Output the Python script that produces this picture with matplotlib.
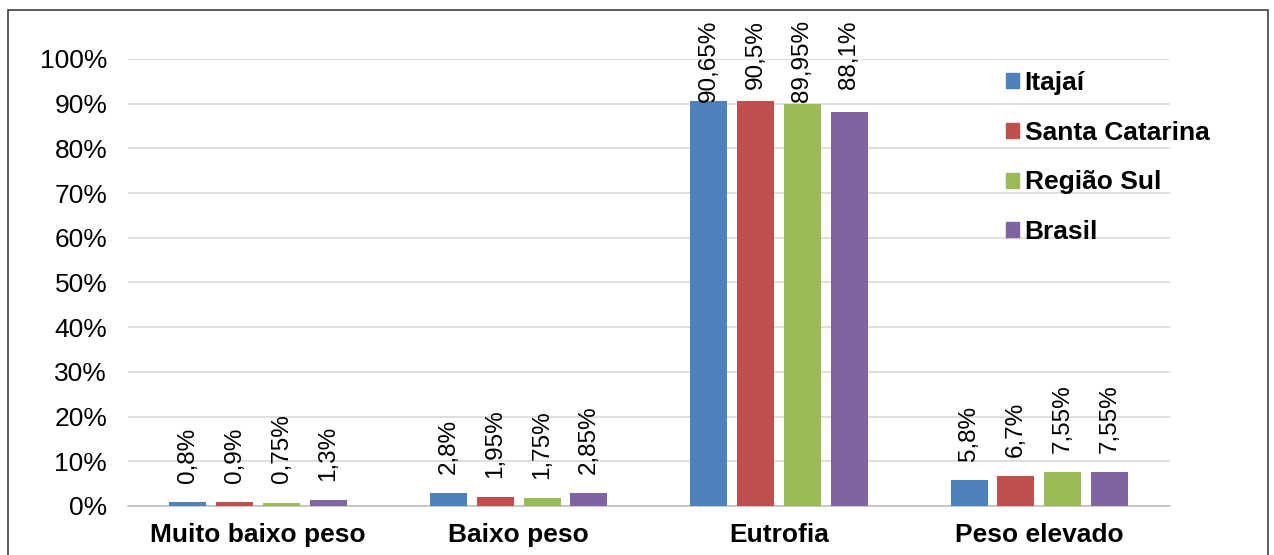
import matplotlib
matplotlib.use("Agg")
import matplotlib.pyplot as plt
import numpy as np
from matplotlib.patches import Patch, Rectangle

plt.rcParams['font.family'] = ['Liberation Sans', 'DejaVu Sans']

categorias = ['Muito baixo peso', 'Baixo peso', 'Eutrofia', 'Peso elevado']
series = ['Itajaí', 'Santa Catarina', 'Região Sul', 'Brasil']
itajai = [0.8, 2.8, 90.65, 5.8]
santa_catarina = [0.9, 1.95, 90.5, 6.7]
regiao_sul = [0.75, 1.75, 89.95, 7.55]
brasil = [1.3, 2.85, 88.1, 7.55]
rotulos = [['0,8%', '2,8%', '90,65%', '5,8%'],
           ['0,9%', '1,95%', '90,5%', '6,7%'],
           ['0,75%', '1,75%', '89,95%', '7,55%'],
           ['1,3%', '2,85%', '88,1%', '7,55%']]
cores = ['#4F81BD', '#C0504D', '#9BBB59', '#8064A2']

valores = [itajai, santa_catarina, regiao_sul, brasil]

fig = plt.figure(figsize=(12.74, 5.55), dpi=100)
ax = fig.add_axes([0.1005, 0.0883, 0.8175, 0.8054])

x = np.arange(len(categorias))
w = 0.142
passo = 0.18
for i, (nome, vals) in enumerate(zip(series, valores)):
    pos = x + (i - 1.5) * passo
    ax.bar(pos, vals, width=w, color=cores[i], zorder=3)
    for px, v, r in zip(pos, vals, rotulos[i]):
        if v > 85:
            # excel pushes these labels down to fit the chart area
            ax.annotate(r, xy=(px, 100), xytext=(0, 28), textcoords='offset points',
                        rotation=90, ha='center', va='top', fontsize=17.5)
        else:
            ax.annotate(r, xy=(px, v), xytext=(0, 14), textcoords='offset points',
                        rotation=90, ha='center', va='bottom', fontsize=17.5)

ax.set_xlim(-0.5, 3.5)
ax.set_ylim(0, 100)
ax.set_yticks(np.arange(0, 101, 10))
ax.set_yticklabels(['%d%%' % t for t in range(0, 101, 10)], fontsize=19)
ax.set_xticks(x)
ax.set_xticklabels(categorias, fontsize=19, fontweight='bold')
ax.tick_params(axis='y', length=0, pad=15)
ax.tick_params(axis='x', length=0, pad=12)
ax.grid(axis='y', color='#D9D9D9', linewidth=1.2, zorder=0)
for s in ['top', 'right', 'left']:
    ax.spines[s].set_visible(False)
ax.spines['bottom'].set_color('#BFBFBF')
ax.spines['bottom'].set_linewidth(1.2)

handles = [Patch(color=c) for c in cores]
leg = ax.legend(handles, series, loc='upper left', bbox_to_anchor=(993 / 1274, 1 - 58 / 555),
                bbox_transform=fig.transFigure, frameon=False, borderpad=0,
                handlelength=0.5, handleheight=0.5, handletextpad=0.2,
                labelspacing=0.97, prop={'size': 19, 'weight': 'bold'})

fig.patches.append(Rectangle((8 / 1274, -0.05), 1260 / 1274, 1.05 - 10 / 555,
                             transform=fig.transFigure, fill=False,
                             edgecolor='#404040', linewidth=1.2))

fig.savefig('out.png', dpi=100)
